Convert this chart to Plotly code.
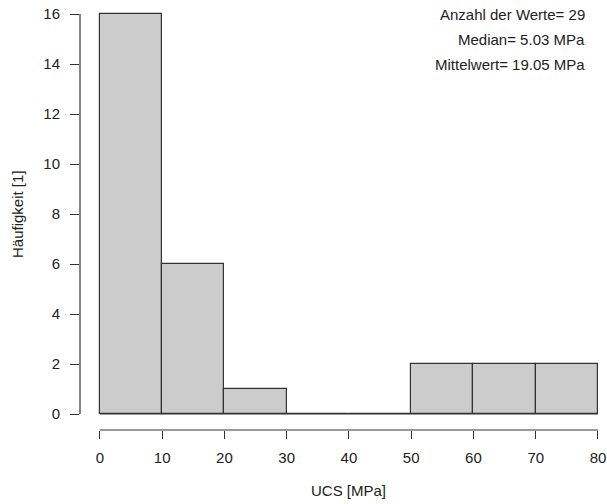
import plotly.graph_objects as go

bin_left = [0, 10, 20, 30, 40, 50, 60, 70]
bin_width = 10
counts = [16, 6, 1, 0, 0, 2, 2, 2]
x_ticks = [0, 10, 20, 30, 40, 50, 60, 70, 80]
y_ticks = [0, 2, 4, 6, 8, 10, 12, 14, 16]
info_lines = ["Anzahl der Werte= 29", "Median= 5.03 MPa", "Mittelwert= 19.05 MPa"]
x_title = "UCS [MPa]"
y_title = "Häufigkeit [1]"

W, H = 607, 504
ml, mr, mt, mb = 80, 0, 0, 74
pw, ph = W - ml - mr, H - mt - mb
fam = "Liberation Sans, Arial, sans-serif"
font = dict(family=fam, size=15, color="#222222")

centers = [b + bin_width / 2 for b in bin_left]

fig = go.Figure()
fig.add_trace(go.Bar(
    x=centers, y=counts, width=[bin_width] * len(counts),
    marker=dict(color="#cccccc", line=dict(color="#333333", width=1.2)),
    hoverinfo="x+y", showlegend=False,
))

xmin, xmax = min(x_ticks), max(x_ticks)
ymin, ymax = min(y_ticks), max(y_ticks)
xr = [-3.2, 81.45]
yr = [-0.64, 16.56]

shapes = [
    dict(type="line", xref="x", yref="y", x0=bin_left[0], x1=bin_left[-1] + bin_width,
         y0=0, y1=0, line=dict(color="#333333", width=1.2)),
    dict(type="line", xref="paper", yref="y", x0=0, x1=0, y0=ymin, y1=ymax,
         line=dict(color="#333333", width=1.2)),
    dict(type="line", xref="x", yref="paper", x0=xmin, x1=xmax, y0=0, y1=0,
         line=dict(color="#333333", width=1.2)),
]

annotations = []
for i, t in enumerate(info_lines):
    annotations.append(dict(
        text=t, xref="paper", yref="paper", x=(587 - ml) / pw,
        y=1 - (15 + 24.5 * i) / ph, xanchor="right", yanchor="middle",
        showarrow=False, font=font,
    ))
annotations.append(dict(
    text=x_title, xref="x", yref="paper", x=(-3.2 + 83.2) / 2, y=-(490 - 430) / ph,
    xanchor="center", yanchor="middle", showarrow=False, font=font,
))
annotations.append(dict(
    text=y_title, xref="paper", yref="paper", x=-(80 - 18) / pw, y=(430 - 214) / ph,
    xanchor="center", yanchor="middle", textangle=-90, showarrow=False, font=font,
))

fig.update_layout(
    width=W, height=H,
    margin=dict(l=ml, r=mr, t=mt, b=mb, autoexpand=False),
    plot_bgcolor="white", paper_bgcolor="white",
    font=font, bargap=0,
    shapes=shapes, annotations=annotations,
    xaxis=dict(range=xr, tickvals=x_ticks, ticks="outside", ticklen=8, tickwidth=1.2,
               tickcolor="#333333", showline=False, showgrid=False, zeroline=False,
               automargin=False, ticklabelstandoff=6, tickfont=font, fixedrange=True),
    yaxis=dict(range=yr, tickvals=y_ticks, ticks="outside", ticklen=9, tickwidth=1.2,
               tickcolor="#333333", showline=False, showgrid=False, zeroline=False,
               automargin=False, ticklabelstandoff=7, tickfont=font, fixedrange=True),
)

fig.write_html(
    "out.html",
    config={"displayModeBar": False},
    post_script="document.body.style.margin='0';document.body.style.overflow='hidden';"
                "document.documentElement.style.overflow='hidden';",
)
